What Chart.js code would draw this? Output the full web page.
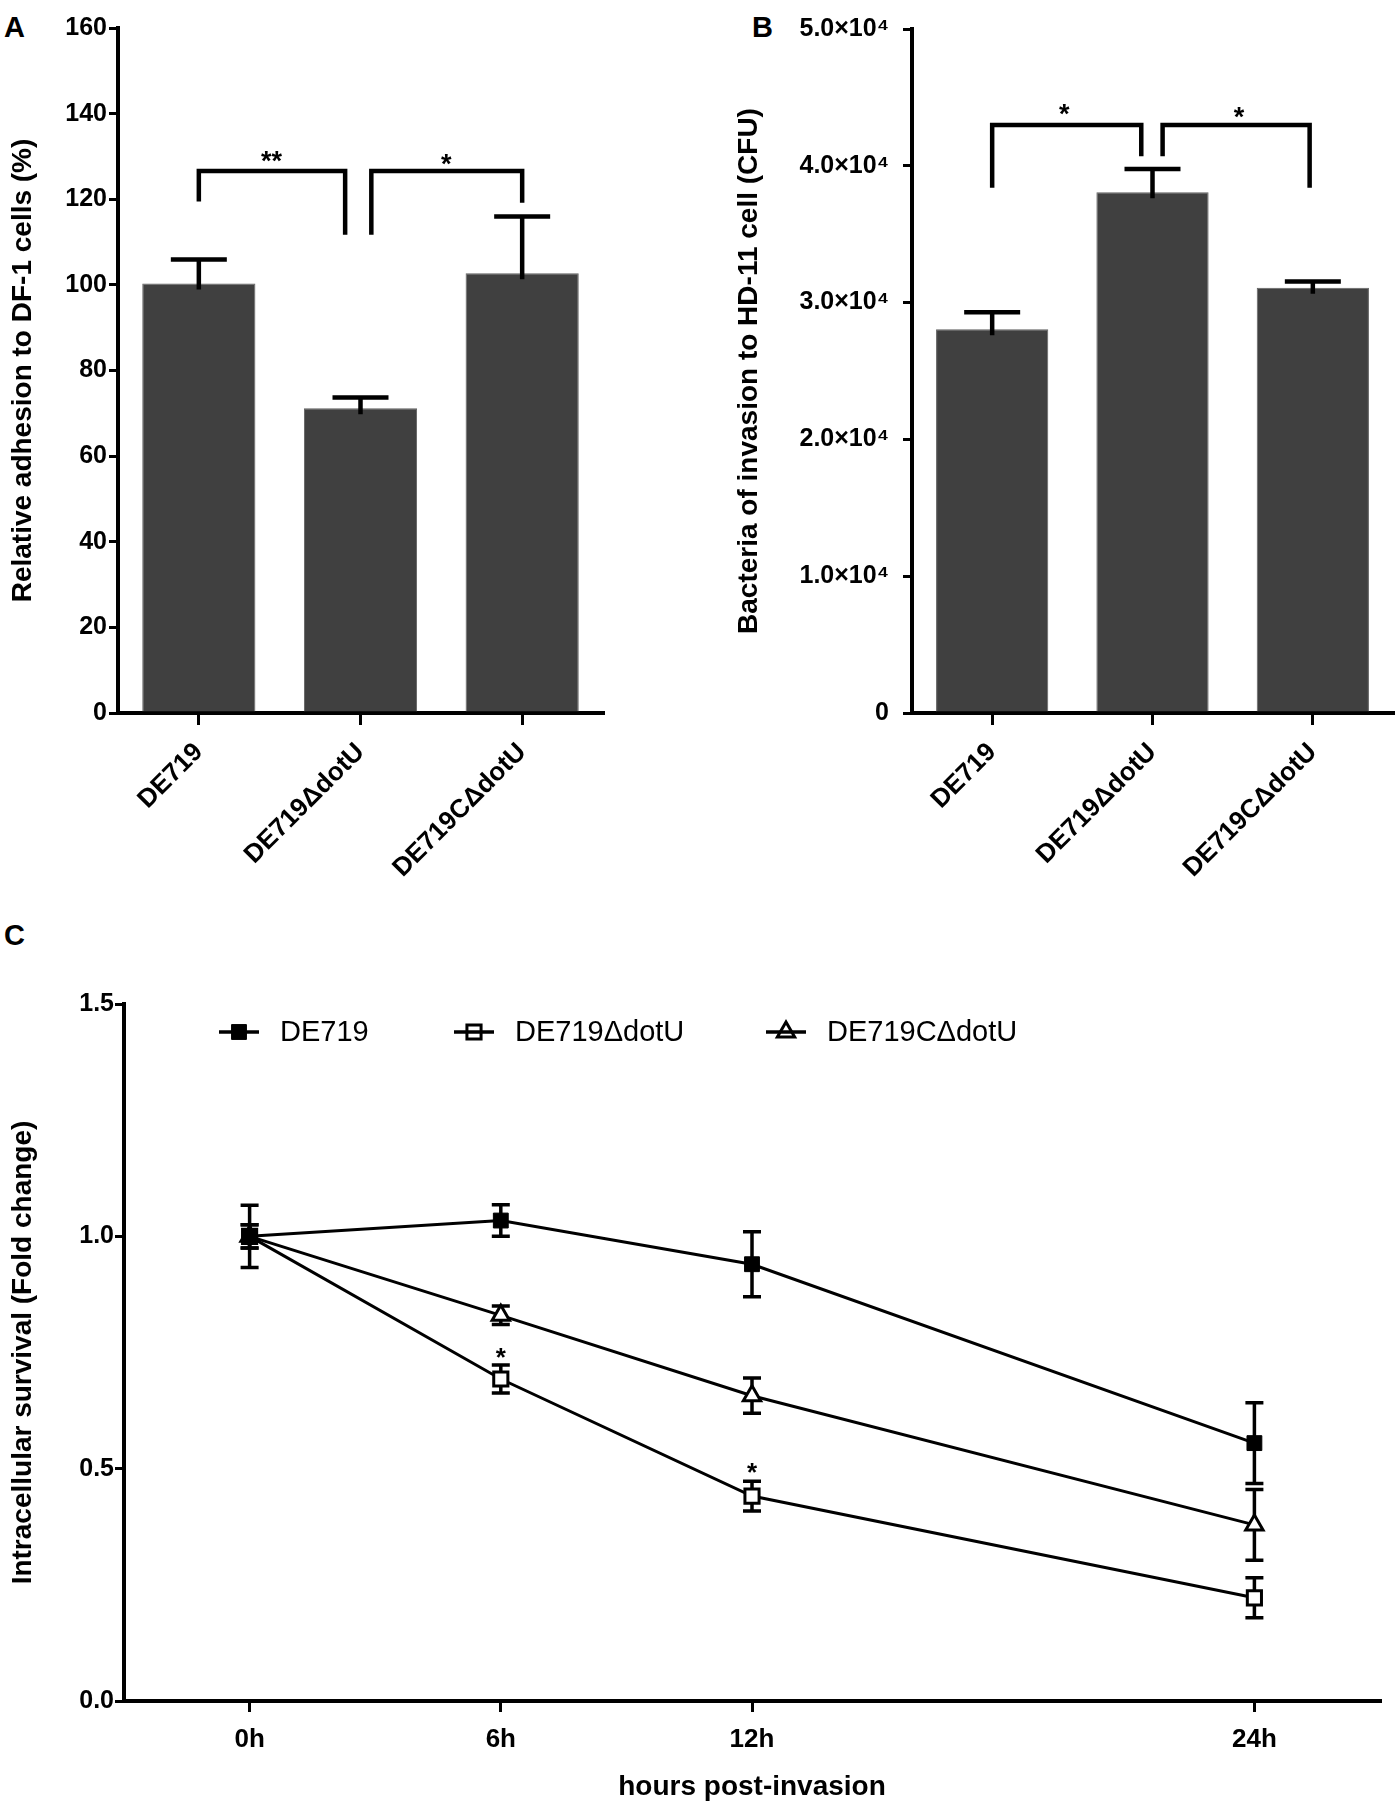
<!DOCTYPE html>
<html>
<head>
<meta charset="utf-8">
<script src="https://cdn.jsdelivr.net/npm/chart.js@4.4.1/dist/chart.umd.min.js"></script>
<style>
  html, body { margin: 0; padding: 0; background: #fff; }
  #page { position: relative; width: 1400px; height: 1808px; overflow: hidden; }
  .panel { position: absolute; }
  .tag { position: absolute; font-family: 'Liberation Sans', Arial, sans-serif; font-weight: bold; font-size: 29px; line-height: 29px; color: #000; }
</style>
</head>
<body>
<div id="page">
  <div class="tag" style="left:4px;top:13px">A</div>
  <div class="tag" style="left:752px;top:13px">B</div>
  <div class="tag" style="left:4px;top:921px">C</div>
  <canvas id="chartA" class="panel" style="left:0;top:0" width="700" height="900"></canvas>
  <canvas id="chartB" class="panel" style="left:700px;top:0" width="700" height="900"></canvas>
  <canvas id="chartC" class="panel" style="left:0;top:900px" width="1400" height="908"></canvas>
</div>
<script>
// data
const strains = ['DE719', 'DE719\u0394dotU', 'DE719C\u0394dotU'];

// A: adhesion to DF-1 cells (%)
const adhesionMean = [100.3, 71.2, 102.7];
const adhesionErr = [5.6, 2.5, 13.3];
const adhesionTicks = [0, 20, 40, 60, 80, 100, 120, 140, 160];

// B: invasion to HD-11 cells (CFU)
const invasionMean = [28050, 38060, 31090];
const invasionErr = [1250, 1710, 460];
const invasionTicks = [0, 10000, 20000, 30000, 40000, 50000];

// C: intracellular survival (fold change)
const hours = [0, 6, 12, 24];
const hourTicks = [0, 6, 12, 24];
const survivalTicks = [0, 0.5, 1.0, 1.5];
const survivalWT = [1.0, 1.034, 0.94, 0.555];
const survivalWTErr = [0.025, 0.034, 0.07, 0.087];
const survivalMut = [1.0, 0.693, 0.441, 0.222];
const survivalMutErr = [0.067, 0.03, 0.032, 0.043];
const survivalComp = [1.0, 0.83, 0.657, 0.379];
const survivalCompErr = [0.025, 0.02, 0.038, 0.076];

const sans = "'Liberation Sans', Arial, sans-serif";
const narrow = "'Liberation Sans Narrow', 'Arial Narrow', 'Liberation Sans', sans-serif";

// error bars, drawn from dataset.errors
const errorBarPlugin = {
  id: 'errorBars',
  draw(chart, opts) {
    const ctx = chart.ctx;
    const ys = chart.scales.y;
    ctx.save();
    ctx.strokeStyle = '#000';
    ctx.lineWidth = opts.width;
    ctx.lineCap = 'butt';
    chart.data.datasets.forEach((ds, i) => {
      if (!ds.errors) return;
      chart.getDatasetMeta(i).data.forEach((el, j) => {
        const raw = ds.data[j];
        const v = typeof raw === 'number' ? raw : raw.y;
        const e = ds.errors[j];
        const yTop = ys.getPixelForValue(v + e);
        const yBot = opts.upOnly ? ys.getPixelForValue(v) + 6 : ys.getPixelForValue(v - e);
        ctx.beginPath();
        ctx.moveTo(el.x, yBot);
        ctx.lineTo(el.x, yTop);
        ctx.moveTo(el.x - opts.cap / 2, yTop);
        ctx.lineTo(el.x + opts.cap / 2, yTop);
        if (!opts.upOnly) {
          ctx.moveTo(el.x - opts.cap / 2, yBot);
          ctx.lineTo(el.x + opts.cap / 2, yBot);
        }
        ctx.stroke();
      });
    });
    ctx.restore();
  },
  beforeDatasetsDraw(chart, args, opts) { if (opts.below) this.draw(chart, opts); },
  afterDatasetsDraw(chart, args, opts) { if (!opts.below) this.draw(chart, opts); }
};

// significance brackets and stars (in data units)
const markPlugin = {
  id: 'marks',
  afterDraw(chart, args, opts) {
    const ctx = chart.ctx;
    const xs = chart.scales.x, ys = chart.scales.y;
    ctx.save();
    ctx.strokeStyle = '#000';
    ctx.fillStyle = '#000';
    ctx.lineWidth = opts.width || 4.5;
    ctx.lineJoin = 'miter';
    (opts.brackets || []).forEach(b => {
      ctx.beginPath();
      ctx.moveTo(xs.getPixelForValue(b.x0), ys.getPixelForValue(b.y0));
      ctx.lineTo(xs.getPixelForValue(b.x0), ys.getPixelForValue(b.top));
      ctx.lineTo(xs.getPixelForValue(b.x1), ys.getPixelForValue(b.top));
      ctx.lineTo(xs.getPixelForValue(b.x1), ys.getPixelForValue(b.y1));
      ctx.stroke();
    });
    const size = opts.starSize || 27;
    ctx.font = 'bold ' + size + 'px ' + sans;
    ctx.textAlign = 'center';
    ctx.textBaseline = 'alphabetic';
    (opts.stars || []).forEach(s => {
      ctx.fillText(s.text, xs.getPixelForValue(s.x), ys.getPixelForValue(s.y) + size * 0.58);
    });
    ctx.restore();
  }
};

// legend of panel C: symbol with a line through it, then the name
const lineLegendPlugin = {
  id: 'lineLegend',
  afterDraw(chart, args, opts) {
    const ctx = chart.ctx;
    ctx.save();
    chart.data.datasets.forEach((ds, i) => {
      const x = opts.x[i], y = opts.y;
      ctx.fillStyle = ds.pointBackgroundColor;
      ctx.strokeStyle = '#000';
      ctx.lineWidth = ds.pointBorderWidth;
      Chart.helpers.drawPoint(ctx, { pointStyle: ds.pointStyle, radius: ds.pointRadius, rotation: 0, borderWidth: ds.pointBorderWidth }, x + 20, y);
      ctx.lineWidth = 3.5;
      ctx.beginPath();
      ctx.moveTo(x, y);
      ctx.lineTo(x + 40, y);
      ctx.stroke();
      ctx.fillStyle = '#000';
      ctx.font = '29px ' + narrow;
      ctx.textBaseline = 'middle';
      ctx.fillText(ds.label, x + 61, y + 1);
    });
    ctx.restore();
  }
};

function barChart(id, means, errs, ticks, fmt, yTitle, pad, yWidth, tickPad, marks) {
  return new Chart(document.getElementById(id), {
    type: 'bar',
    data: {
      labels: strains,
      datasets: [{
        data: means,
        errors: errs,
        backgroundColor: '#404040',
        borderColor: '#616161',
        borderWidth: 1,
        barPercentage: 0.7,
        categoryPercentage: 1
      }]
    },
    options: {
      responsive: false,
      animation: false,
      devicePixelRatio: 1,
      layout: { padding: pad },
      plugins: {
        legend: { display: false },
        tooltip: { enabled: false },
        errorBars: { upOnly: true, cap: 56, width: 4.5 },
        marks: marks
      },
      scales: {
        x: {
          grid: { drawOnChartArea: false, offset: false, tickLength: 12, lineWidth: 3, color: '#000' },
          border: { color: '#000', width: 4 },
          ticks: { minRotation: 45, maxRotation: 45, color: '#000', padding: 12, font: { family: sans, size: 26, weight: 'bold' } },
          afterFit: s => { s.height = 187; }
        },
        y: {
          min: ticks[0],
          max: ticks[ticks.length - 1],
          afterBuildTicks: s => { s.ticks = ticks.map(v => ({ value: v })); },
          grid: { drawOnChartArea: false, tickLength: 9, lineWidth: 3, color: '#000' },
          border: { color: '#000', width: 4 },
          ticks: { color: '#000', padding: tickPad, callback: fmt, font: { family: sans, size: 25, weight: 'bold' } },
          title: { display: true, text: yTitle, color: '#000', font: { family: sans, size: 28, weight: 'bold' } },
          afterFit: s => { s.width = yWidth; }
        }
      }
    },
    plugins: [errorBarPlugin, markPlugin]
  });
}

// A
barChart('chartA', adhesionMean, adhesionErr, adhesionTicks, v => v,
  'Relative adhesion to DF-1 cells (%)',
  { left: 2, top: 28, right: 97, bottom: 0 }, 116, 2,
  {
    brackets: [
      { x0: 0, y0: 119.5, x1: 0.905, y1: 111.7, top: 126.6 },
      { x0: 1.067, y0: 111.7, x1: 2, y1: 119.2, top: 126.6 }
    ],
    stars: [{ x: 0.45, y: 130.4, text: '**' }, { x: 1.53, y: 129.9, text: '*' }]
  });

// B
barChart('chartB', invasionMean, invasionErr, invasionTicks,
  v => v === 0 ? '0' : (v / 10000).toFixed(1) + '\u00d710\u2074',
  'Bacteria of invasion to HD-11 cell (CFU)',
  { left: 28, top: 28, right: 7, bottom: 0 }, 184, 14,
  {
    brackets: [
      { x0: 0, y0: 38400, x1: 0.93, y1: 40700, top: 42990 },
      { x0: 1.063, y0: 40700, x1: 1.98, y1: 38400, top: 42990 }
    ],
    stars: [{ x: 0.45, y: 44240, text: '*' }, { x: 1.54, y: 44030, text: '*' }]
  });

// C
function pts(vals) { return hours.map((h, i) => ({ x: h, y: vals[i] })); }

new Chart(document.getElementById('chartC'), {
  type: 'line',
  data: {
    datasets: [
      { label: 'DE719', data: pts(survivalWT), errors: survivalWTErr, pointStyle: 'rect', pointRadius: 10.5, pointBorderWidth: 1, pointBackgroundColor: '#000' },
      { label: 'DE719\u0394dotU', data: pts(survivalMut), errors: survivalMutErr, pointStyle: 'rect', pointRadius: 10, pointBorderWidth: 3, pointBackgroundColor: '#fff' },
      { label: 'DE719C\u0394dotU', data: pts(survivalComp), errors: survivalCompErr, pointStyle: 'triangle', pointRadius: 10, pointBorderWidth: 3, pointBackgroundColor: '#fff' }
    ].map(d => Object.assign({ borderColor: '#000', borderWidth: 3, pointBorderColor: '#000', tension: 0, fill: false }, d))
  },
  options: {
    responsive: false,
    animation: false,
    devicePixelRatio: 1,
    layout: { padding: { left: 2, top: 104, right: 20, bottom: 0 } },
    plugins: {
      legend: { display: false },
      tooltip: { enabled: false },
      errorBars: { below: true, cap: 18, width: 3.5 },
      marks: { starSize: 26, stars: [{ x: 6, y: 0.754, text: '*' }, { x: 12, y: 0.505, text: '*' }] },
      lineLegend: { x: [219, 454, 766], y: 132 }
    },
    scales: {
      x: {
        type: 'linear',
        min: -3,
        max: 27,
        afterBuildTicks: s => { s.ticks = hourTicks.map(v => ({ value: v })); },
        grid: { drawOnChartArea: false, tickLength: 11, lineWidth: 3, color: '#000' },
        border: { color: '#000', width: 4 },
        ticks: { color: '#000', padding: 12, callback: v => v + 'h', font: { family: narrow, size: 26, weight: 'bold' } },
        title: { display: true, text: 'hours post-invasion', color: '#000', font: { family: narrow, size: 28, weight: 'bold' } },
        afterFit: s => { s.height = 107; }
      },
      y: {
        min: 0,
        max: 1.5,
        afterBuildTicks: s => { s.ticks = survivalTicks.map(v => ({ value: v })); },
        grid: { drawOnChartArea: false, tickLength: 9, lineWidth: 3, color: '#000' },
        border: { color: '#000', width: 4 },
        ticks: { color: '#000', padding: 1, callback: v => v.toFixed(1), font: { family: narrow, size: 25, weight: 'bold' } },
        title: { display: true, text: 'Intracellular survival (Fold change)', color: '#000', font: { family: sans, size: 28, weight: 'bold' } },
        afterFit: s => { s.width = 122; }
      }
    }
  },
  plugins: [errorBarPlugin, markPlugin, lineLegendPlugin]
});
</script>
</body>
</html>
